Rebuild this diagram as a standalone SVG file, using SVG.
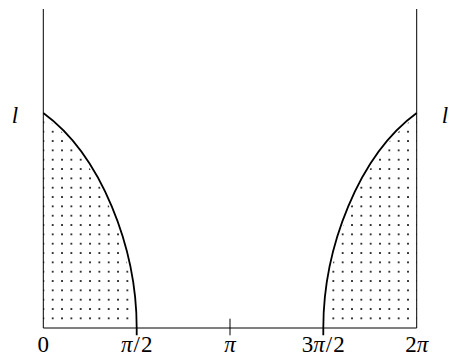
<svg xmlns="http://www.w3.org/2000/svg" width="449" height="357" viewBox="0 0 449 357">
<style>
.axis{fill:none;stroke:#000;stroke-width:1}
.curve{fill:none;stroke:#000;stroke-width:1.8}
.lbl{font-family:"Liberation Serif","DejaVu Serif",serif;font-size:23px;fill:#000;text-anchor:middle}
.it{font-style:italic}
</style>
<defs>
<pattern id="dotsL" patternUnits="userSpaceOnUse" x="48.03" y="127.03" width="9.333" height="9.333">
<circle cx="4.667" cy="4.667" r="1" fill="#000"/>
</pattern>
<pattern id="dotsR" patternUnits="userSpaceOnUse" x="403.33" y="127.03" width="9.333" height="9.333">
<circle cx="4.667" cy="4.667" r="1" fill="#000"/>
</pattern>
</defs>
<g id="fill-left">
<path d="M43.3,323 V116 C98.3,156 133.7,248 133.7,323 Z" fill="url(#dotsL)"/>
</g>
<g id="fill-right">
<path d="M416.7,323 V116 C361.7,156 326.3,248 326.3,323 Z" fill="url(#dotsR)"/>
</g>
<g id="axes">
<path class="axis" d="M43.3,9 V328 H416.7 V9"/>
<path class="axis" d="M230,318.7 V335.3"/>
</g>
<g id="connectors">
<path id="curve-left" class="curve" d="M43.3,113 C101.3,155.3 136.7,248 136.7,328 V335.3"/>
<path id="curve-right" class="curve" d="M416.7,113 C358.7,155.3 323.3,248 323.3,328 V335.3"/>
</g>
<g id="labels">
<text class="lbl it" x="15" y="123">l</text>
<text class="lbl it" x="445" y="123">l</text>
<text class="lbl" x="43.3" y="352">0</text>
<text class="lbl" x="136.7" y="352"><tspan class="it">π</tspan><tspan dx="1">/</tspan><tspan dx="1">2</tspan></text>
<text class="lbl it" x="230" y="352">π</text>
<text class="lbl" x="323.3" y="352">3<tspan class="it">π</tspan><tspan dx="1">/</tspan><tspan dx="1">2</tspan></text>
<text class="lbl" x="416.7" y="352">2<tspan class="it">π</tspan></text>
</g>
</svg>
